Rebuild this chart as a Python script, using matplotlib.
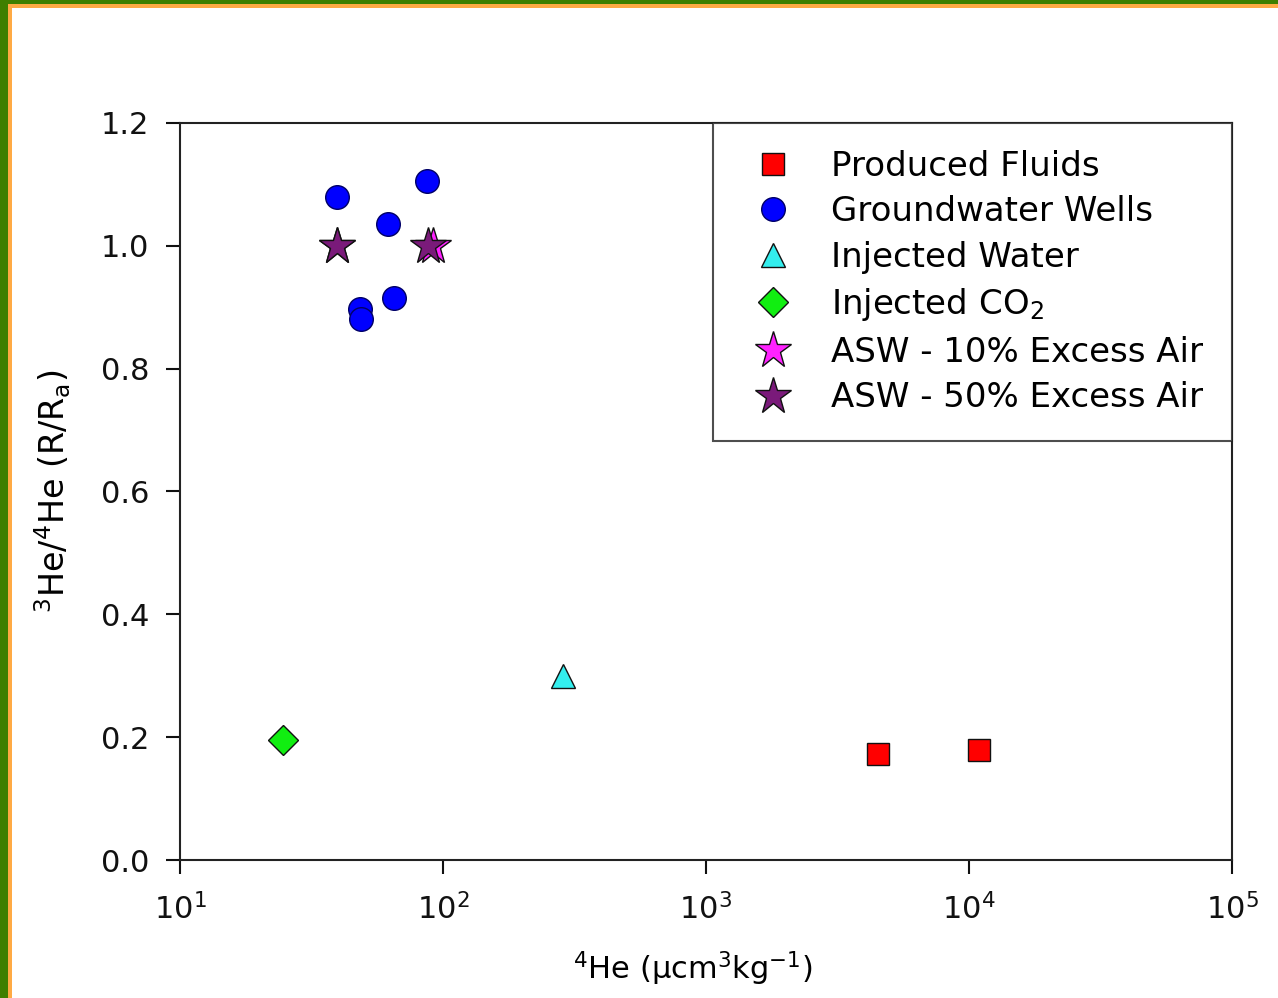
import matplotlib
matplotlib.use("Agg")
import matplotlib.pyplot as plt
from matplotlib.patches import Rectangle
from matplotlib.ticker import NullLocator, FixedLocator

plt.rcParams['font.family'] = ['DejaVu Sans']
plt.rcParams['mathtext.default'] = 'regular'

# ---- data ----
produced_x = [4500, 10900]
produced_y = [0.173, 0.179]

gw_x = [39.5, 87.0, 61.8, 65.2, 48.3, 48.9]
gw_y = [1.080, 1.106, 1.036, 0.915, 0.897, 0.881]

injw_x = [286]
injw_y = [0.300]

injco2_x = [24.7]
injco2_y = [0.195]

asw10_x = [39.5, 91.5]
asw10_y = [1.0, 1.0]

asw50_x = [39.5, 87.5]
asw50_y = [1.0, 1.0]

x_ticks = [1e1, 1e2, 1e3, 1e4, 1e5]
y_ticks = [0.0, 0.2, 0.4, 0.6, 0.8, 1.0, 1.2]

W, H = 1278, 998
fig = plt.figure(figsize=(W / 100, H / 100), dpi=100)
fig.patch.set_facecolor('white')

# frame border (green + orange) on left and top
fig.patches.append(Rectangle((0, 0), 7.5 / W, 1, transform=fig.transFigure,
                             facecolor='#3f7f00', edgecolor='none', zorder=0))
fig.patches.append(Rectangle((0, 1 - 4 / H), 1, 4 / H, transform=fig.transFigure,
                             facecolor='#3f7f00', edgecolor='none', zorder=0))
fig.patches.append(Rectangle((7.5 / W, 0), 4 / W, 1 - 4 / H, transform=fig.transFigure,
                             facecolor='#ffaa44', edgecolor='none', zorder=0))
fig.patches.append(Rectangle((7.5 / W, 1 - 8 / H), 1, 4 / H, transform=fig.transFigure,
                             facecolor='#ffaa44', edgecolor='none', zorder=0))

ax = fig.add_axes([180 / W, 1 - 860 / H, (1232 - 180) / W, (860 - 123) / H])
ax.set_xscale('log')
ax.set_xlim(1e1, 1e5)
ax.set_ylim(0, 1.2)
ax.xaxis.set_major_locator(FixedLocator(x_ticks))
ax.xaxis.set_minor_locator(NullLocator())
ax.set_yticks(y_ticks)
ax.set_yticklabels([f"{v:.1f}" for v in y_ticks])

for s in ax.spines.values():
    s.set_linewidth(1.5)
    s.set_color('#222222')

ax.tick_params(axis='both', which='major', direction='out', length=10, width=1.5,
               labelsize=22, pad=12, colors='#111111')
ax.tick_params(axis='x', pad=14)

ec = '#111111'
ax.plot(produced_x, produced_y, ls='none', marker='s', ms=16, mfc='#ff0000',
        mec=ec, mew=1.0, label='Produced Fluids', zorder=3)
ax.plot(gw_x, gw_y, ls='none', marker='o', ms=17, mfc='#0000ff',
        mec='#000066', mew=1.0, label='Groundwater Wells', zorder=3)
ax.plot(injw_x, injw_y, ls='none', marker='^', ms=17, mfc='#33eeee',
        mec=ec, mew=1.0, label='Injected Water', zorder=3)
ax.plot(injco2_x, injco2_y, ls='none', marker='D', ms=15, mfc='#11ee11',
        mec=ec, mew=1.0, label='Injected CO$_2$', zorder=3)
ax.plot(asw10_x, asw10_y, ls='none', marker='*', ms=28, mfc='#ff22ff',
        mec=ec, mew=1.0, label='ASW - 10% Excess Air', zorder=4)
ax.plot(asw50_x, asw50_y, ls='none', marker='*', ms=28, mfc='#7a1a7a',
        mec=ec, mew=1.0, label='ASW - 50% Excess Air', zorder=5)

ax.set_xlabel('$^4$He (µcm$^3$kg$^{-1}$)', fontsize=22)
ax.set_ylabel('$^3$He/$^4$He (R/R$_a$)', fontsize=24)
ax.xaxis.set_label_coords(0.487, -0.122)
ax.yaxis.set_label_coords(-0.102, 0.5)

leg = ax.legend(loc='upper left', bbox_to_anchor=(0.5067, 0.0, 0.4933, 1.0),
                mode='expand', borderaxespad=0, fontsize=24.5, frameon=True,
                fancybox=False, edgecolor='#222222', handlelength=1.97,
                handletextpad=0.72, borderpad=0.78, labelspacing=0.37,
                numpoints=1)
leg.get_frame().set_linewidth(1.5)

fig.savefig('out.png', dpi=100, facecolor='white')
